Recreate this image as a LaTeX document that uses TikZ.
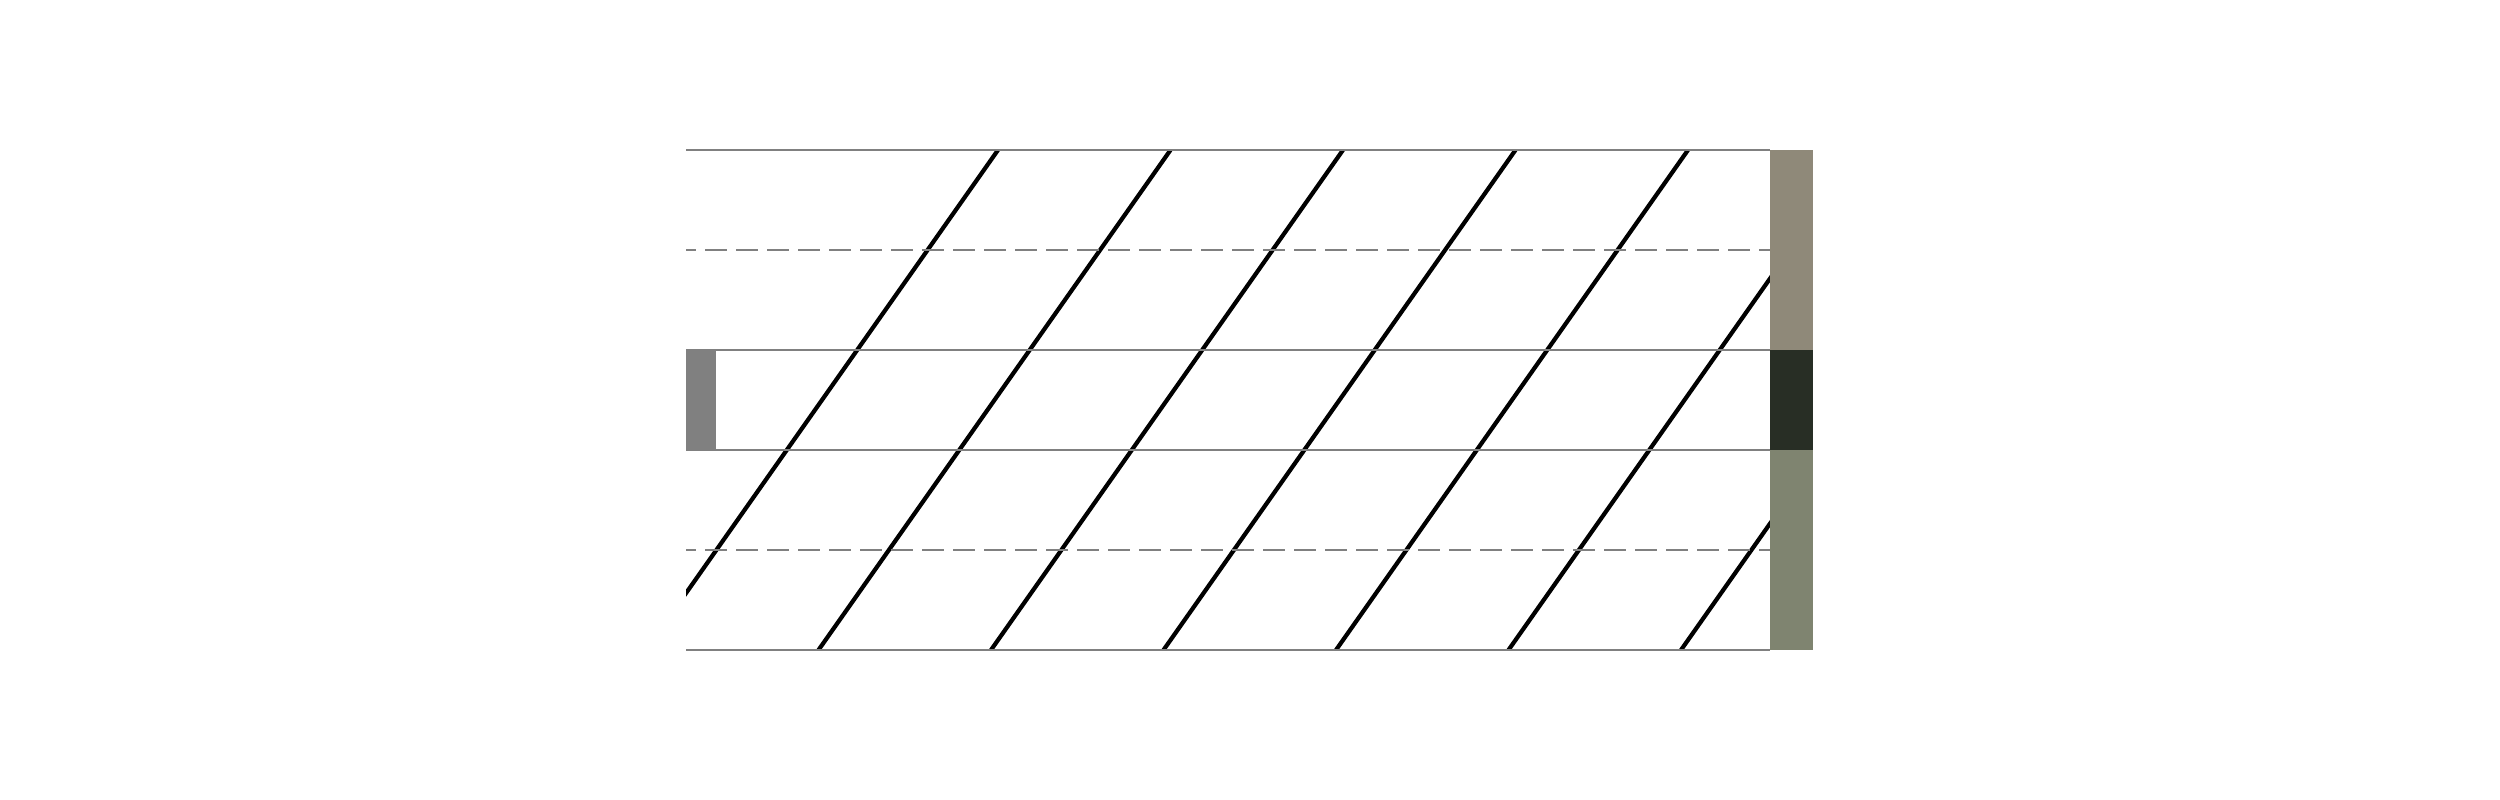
\documentclass[tikz,border=0pt]{standalone}
\usepackage{tikz}
\definecolor{bandtop}{HTML}{8F8979}
\definecolor{bandmid}{HTML}{282E25}
\definecolor{bandlow}{HTML}{7F8470}
\tikzstyle{guide} = [draw, gray, line width=0.6pt]
\tikzstyle{midguide} = [guide, dash pattern=on 0.22cm off 0.09cm, dash phase=0.12cm]
\tikzstyle{slant} = [draw, black, line width=1.2pt]

\begin{document}
\begin{tikzpicture}
            \useasboundingbox (0,0) rectangle (25,8);
            % Slanted lines
            \begin{scope}
            \clip (6.86,1.5) rectangle (17.70,6.5);
            \foreach \x in {6.46, 8.185, 9.91, 11.635, 13.36, 15.085, 16.81}
                \path [slant] (\x,1.5) -- ++(3.52,5);
            \end{scope}
            % Horizontal guides
            \foreach \y in {6.5, 4.5, 3.5, 1.5}
                \path [guide] (6.86,\y) -- (17.70,\y);
            \foreach \y in {5.5, 2.5}
                \path [midguide] (6.86,\y) -- (17.70,\y);
            % Bars
            \fill [gray] (6.86,3.5) rectangle (7.16,4.5);
            \fill [bandtop] (17.70,4.5) rectangle (18.13,6.5);
            \fill [bandmid] (17.70,3.5) rectangle (18.13,4.5);
            \fill [bandlow] (17.70,1.5) rectangle (18.13,3.5);
          \end{tikzpicture}
\end{document}
